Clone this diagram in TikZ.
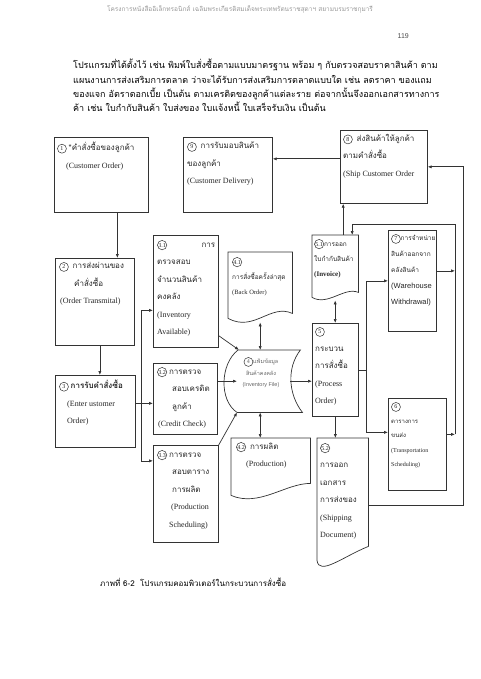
\documentclass[tikz,border=0pt]{standalone}
\usepackage{fontspec}
\setmainfont{Liberation Serif}
\setsansfont{Liberation Sans}
\newfontfamily\thai[Script=Thai]{Loma}
\usetikzlibrary{arrows.meta,calc}
\tikzset{
  blk/.style={draw=black!80,line width=0.7pt,rectangle,inner sep=0,anchor=north west},
  docblk/.style={rectangle,inner sep=0,anchor=north west},
  ln/.style={draw=black!80,line width=0.7pt},
  arr/.style={ln,-{Latex[length=4pt,width=3.2pt]}},
  darr/.style={ln,{Latex[length=4pt,width=3.2pt]}-{Latex[length=4pt,width=3.2pt]}},
  txt/.style={anchor=north west,align=left,inner sep=0,text=black!85,font=\fontsize{8}{17.5}\selectfont},
  stxt/.style={txt,font=\fontsize{6.5}{15}\selectfont}
}
\newcommand{\cnum}[1]{\tikz[baseline=(cn.base)]\node[circle,draw=black!80,line width=0.5pt,inner sep=0.3pt,minimum size=9pt,font=\fontsize{6}{6}\selectfont](cn){#1};}

\begin{document}
\begin{tikzpicture}[x=1pt,y=-1pt]
  \useasboundingbox (0,0) rectangle (480,679);
  \fill[white] (0,0) rectangle (480,679);

  % page text
  \node[anchor=north,inner sep=0,text=black!40,font=\thai\fontsize{6.5}{8}\selectfont] (head) at (240,5)
    {โครงการหนังสืออิเล็กทรอนิกส์ เฉลิมพระเกียรติสมเด็จพระเทพรัตนราชสุดาฯ สยามบรมราชกุมารี};
  \node[anchor=north east,inner sep=0,text=black!70,font=\sffamily\fontsize{7}{8}\selectfont] (pg) at (409,33) {119};
  \node[anchor=north west,align=left,inner sep=0,font=\thai\fontsize{9}{14.3}\selectfont] (para) at (73,59)
    {โปรแกรมที่ได้ตั้งไว้ เช่น พิมพ์ใบสั่งซื้อตามแบบมาตรฐาน พร้อม ๆ กับตรวจสอบราคาสินค้า ตาม\\
     แผนงานการส่งเสริมการตลาด ว่าจะได้รับการส่งเสริมการตลาดแบบใด เช่น ลดราคา ของแถม\\
     ของแจก อัตราดอกเบี้ย เป็นต้น ตามเครดิตของลูกค้าแต่ละราย ต่อจากนั้นจึงออกเอกสารทางการ\\
     ค้า เช่น ใบกำกับสินค้า ใบส่งของ ใบแจ้งหนี้ ใบเสร็จรับเงิน เป็นต้น};

  % boxes
  \node[blk,minimum width=94pt,minimum height=75pt] (b1) at (54,137) {};
  \node[blk,minimum width=89pt,minimum height=75pt] (b9) at (183,137) {};
  \node[blk,minimum width=87pt,minimum height=73pt] (b8) at (340,130) {};
  \node[blk,minimum width=79pt,minimum height=87pt] (b2) at (55,258) {};
  \node[blk,minimum width=65pt,minimum height=112pt] (b31) at (153,235) {};
  \node[blk,minimum width=80pt,minimum height=72pt] (b3) at (55,375) {};
  \node[blk,minimum width=64pt,minimum height=71pt] (b32) at (153,363) {};
  \node[blk,minimum width=65pt,minimum height=97pt] (b33) at (153,445) {};
  \node[blk,minimum width=46pt,minimum height=93pt] (b5) at (312,323) {};
  \node[blk,minimum width=48pt,minimum height=101pt] (b7) at (388,230) {};
  \node[blk,minimum width=58pt,minimum height=92pt] (b6) at (388,398) {};
  \node[docblk,minimum width=64pt,minimum height=66pt] (d41) at (228,252) {};
  \node[docblk,minimum width=79pt,minimum height=57pt] (d42) at (231,438) {};
  \node[docblk,minimum width=46pt,minimum height=62pt] (d51) at (312,235) {};
  \node[docblk,minimum width=51pt,minimum height=122pt] (d52) at (317,438) {};
  \node[docblk,minimum width=79pt,minimum height=62pt] (inv) at (223,350) {};

  % document and file outlines
  \draw[ln] (d41.south west) -- (d41.north west) -- (d41.north east) -- ([yshift=5pt]d41.south east)
    .. controls +(-22,-10) and +(26,14) .. (d41.south west);
  \draw[ln] (d42.south west) -- (d42.north west) -- (d42.north east) -- ([yshift=12pt]d42.south east)
    .. controls +(-25,0) and +(28,12) .. (d42.south west);
  \draw[ln] (d51.south west) -- (d51.north west) -- (d51.north east) -- ([yshift=5pt]d51.south east)
    .. controls +(-14,-6) and +(16,9) .. (d51.south west);
  \draw[ln] (d52.south west) -- (d52.north west) -- (d52.north east) -- ([yshift=14pt]d52.south east)
    .. controls +(-25,10) and +(2,16) .. (d52.south west);
  \draw[ln] ([xshift=15pt]inv.north west) -- ([xshift=-2pt]inv.north east)
    .. controls +(-14,18) and +(-14,-18) .. (inv.south east) -- ([xshift=14pt]inv.south west)
    .. controls +(-18,-12) and +(-18,14) .. ([xshift=15pt]inv.north west);

  % texts
  \node[txt] (t1) at (57,142) {\cnum{1} {\thai *คำสั่งซื้อของลูกค้า}\\\hspace*{9pt}(Customer Order)};
  \node[txt] (t9) at (187,142) {\cnum{9}\ \ {\thai การรับมอบสินค้า}\\{\thai ของลูกค้า}\\(Customer Delivery)};
  \node[txt] (t8) at (343,134) {\cnum{8}\ \ {\thai ส่งสินค้าให้ลูกค้า}\\{\thai ตามคำสั่งซื้อ}\\(Ship Customer Order};
  \node[txt] (t2) at (59,262) {\cnum{2}\ \ {\thai การส่งผ่านของ}\\\hspace*{15pt}{\thai คำสั่งซื้อ}\\\hspace*{1pt}(Order Transmital)};
  \node[txt,text width=58pt] (t31) at (157,240) {\cnum{3.1}\hfill{\thai การ}\\{\thai ตรวจสอบ}\\{\thai จำนวนสินค้า}\\{\thai คงคลัง}\\(Inventory\\Available)};
  \node[txt] (t3) at (59,380) {\cnum{3} {\thai\bfseries การรับคำสั่งซื้อ}\\\hspace*{8pt}(Enter ustomer\\\hspace*{8pt}Order)};
  \node[txt] (t32) at (157,367) {\cnum{3.2} {\thai การตรวจ}\\\hspace*{15pt}{\thai สอบเครดิต}\\\hspace*{15pt}{\thai ลูกค้า}\\\hspace*{1pt}(Credit Check)};
  \node[txt] (t33) at (157,450) {\cnum{3.3} {\thai การตรวจ}\\\hspace*{15pt}{\thai สอบตาราง}\\\hspace*{15pt}{\thai การผลิต}\\\hspace*{14pt}(Production\\\hspace*{12pt}Scheduling)};
  \node[stxt] (t41) at (232,257) {\cnum{4.1}\\{\thai การสั่งซื้อครั้งล่าสุด}\\(Back Order)};
  \node[txt] (t42) at (236,442) {\cnum{4.2}\ \ {\thai การผลิต}\\\hspace*{10pt}(Production)};
  \node[stxt] (t51) at (314,239) {\cnum{5.1}{\thai การออก}\\{\thai ใบกำกับสินค้า}\\{\fontsize{7}{15}\selectfont\bfseries(Invoice)}};
  \node[txt] (t5) at (315,327) {\cnum{5}\\{\thai กระบวน}\\{\thai การสั่งซื้อ}\\(Process\\Order)};
  \node[stxt,font=\fontsize{6.5}{16}\selectfont] (t7) at (391,234) {\cnum{7}{\thai การจำหน่าย}\\{\thai สินค้าออกจาก}\\{\thai คลังสินค้า}\\{\sffamily\fontsize{7.5}{16}\selectfont(Warehouse}\\{\sffamily\fontsize{7.5}{16}\selectfont Withdrawal)}};
  \node[stxt,font=\fontsize{6}{14.5}\selectfont] (t6) at (391,402) {\cnum{6}\\{\thai ตารางการ}\\{\thai ขนส่ง}\\(Transportation\\Scheduling)};
  \node[txt] (t52) at (320,443) {\cnum{5.2}\\{\thai การออก}\\{\thai เอกสาร}\\{\thai การส่งของ}\\(Shipping\\Document)};
  \node[anchor=north,align=center,inner sep=0,text=black!60,font=\fontsize{5.5}{11.5}\selectfont] (tinv) at (261,357)
    {\cnum{4}{\thai แฟ้มข้อมูล}\\{\thai สินค้าคงคลัง}\\{\sffamily (Inventory File)}};

  % connectors
  \draw[arr] ([xshift=16pt]b1.south) -- ([xshift=16pt]b1.south |- b2.north);
  \draw[arr] ([xshift=5pt]b2.south) -- ([xshift=5pt]b2.south |- b3.north);
  \coordinate (j3) at ([xshift=6pt,yshift=8pt]b3.east);
  \draw[arr] ([yshift=8pt]b3.east) -- ([yshift=8pt]b3.east -| b32.west);
  \draw[arr] (j3) |- ([yshift=-19pt]b31.west);
  \draw[arr] (j3) |- ([yshift=33pt]b33.west);
  \draw[arr] ([yshift=12pt]b31.south east) -- ([xshift=16pt]inv.north west);
  \draw[arr] (b32.east |- inv.west) -- ([xshift=14pt]inv.west);
  \draw[arr] (b33.north east) -- ([xshift=14pt]inv.south west);
  \draw[darr] ([yshift=-4pt]d41.south) -- (d41.south |- inv.north);
  \draw[darr] (d41.south |- inv.south) -- (d41.south |- d42.north);
  \draw[arr] ([xshift=-12pt]inv.east) -- (inv.east -| b5.west);
  \draw[darr] ([yshift=-3pt]d51.south) -- (d51.south |- b5.north);
  \draw[arr] ([xshift=8pt]d51.north) -- ([xshift=8pt]d51.north |- b8.south);
  \draw[arr] (b5.south) -- (b5.south |- d52.north);
  \coordinate (j5) at ([xshift=8pt]b5.east);
  \draw[ln] (b5.east) -- (j5);
  \draw[arr] (j5) |- (b7.west);
  \draw[arr] (j5) |- ([yshift=12pt]b6.west);
  \coordinate (tt) at (455,224);
  \draw[arr] ([yshift=10pt]b7.east) -- ([yshift=10pt]b7.east -| tt);
  \draw[arr] ([yshift=10pt]b6.east) -- ([yshift=10pt]b6.east -| tt);
  \draw[arr] ([yshift=10pt]b6.east -| tt) -- (tt) -| ([xshift=17pt]d51.north);
  \coordinate (ro) at ([xshift=36pt]b8.east);
  \draw[arr] ([yshift=-6pt]d52.east) -| (ro) -- (b8.east);
  \draw[arr] ([yshift=8pt]b8.west) -- ([yshift=8pt]b8.west -| b9.east);

  % caption
  \node[anchor=north west,inner sep=0,font=\thai\fontsize{8}{10}\selectfont] (cap) at (100,578)
    {ภาพที่ 6-2\ \ โปรแกรมคอมพิวเตอร์ในกระบวนการสั่งซื้อ};
\end{tikzpicture}
\end{document}
